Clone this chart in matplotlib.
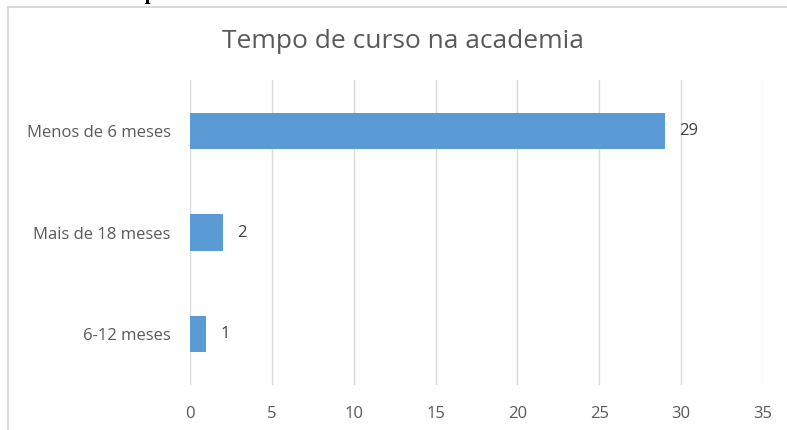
import matplotlib
matplotlib.use("Agg")
import matplotlib.pyplot as plt
from matplotlib.patches import Rectangle

categories = ["6-12 meses", "Mais de 18 meses", "Menos de 6 meses"]
values = [1, 2, 29]
xticks = [0, 5, 10, 15, 20, 25, 30, 35]
title = "Tempo de curso na academia"
caption = "Gráfico 3: Tempo de curso"

W, H = 787, 430
fig = plt.figure(figsize=(W / 100, H / 100), dpi=100)
fig.patch.set_facecolor("white")

# chart border box (top and left visible)
fig.patches.append(Rectangle((8 / W, -0.05), 1.2, (H - 6.5) / H + 0.05,
                             transform=fig.transFigure, fill=False,
                             edgecolor="#d9d9d9", linewidth=1.5))

# cut-off caption above the chart (clipped in the reference too)
fig.text(10 / W, 1 + 1 / H, caption, family="Liberation Serif", weight="bold",
         fontsize=15, color="black", ha="left", va="baseline")

ax = fig.add_axes([190 / W, 1 - 385 / H, (763 - 190) / W, (385 - 80) / H])
ax.barh(range(len(categories)), values, height=0.36, color="#5b9bd5", zorder=3)
ax.set_xlim(0, 35)
ax.set_ylim(-0.5, len(categories) - 0.5)
ax.set_xticks(xticks)
ax.set_xticklabels([str(t) for t in xticks])
ax.set_yticks(range(len(categories)))
ax.set_yticklabels(categories)
ax.grid(axis="x", color="#d9d9d9", linewidth=1, zorder=0)
for s in ax.spines.values():
    s.set_visible(False)
ax.tick_params(axis="both", length=0, colors="#595959", labelsize=12)
ax.tick_params(axis="x", pad=15)
ax.tick_params(axis="y", pad=14)
for lab in ax.get_xticklabels() + ax.get_yticklabels():
    lab.set_family("Open Sans")

for i, v in enumerate(values):
    ax.annotate(str(v), (v, i), xytext=(10, 0), textcoords="offset points",
                ha="left", va="center", fontsize=12, color="#404040",
                family="Open Sans")

fig.text(403 / W, 1 - 42 / H, title, ha="center", va="center",
         fontsize=19, color="#595959", family="Open Sans")

fig.savefig("out.png", dpi=100, facecolor="white")
